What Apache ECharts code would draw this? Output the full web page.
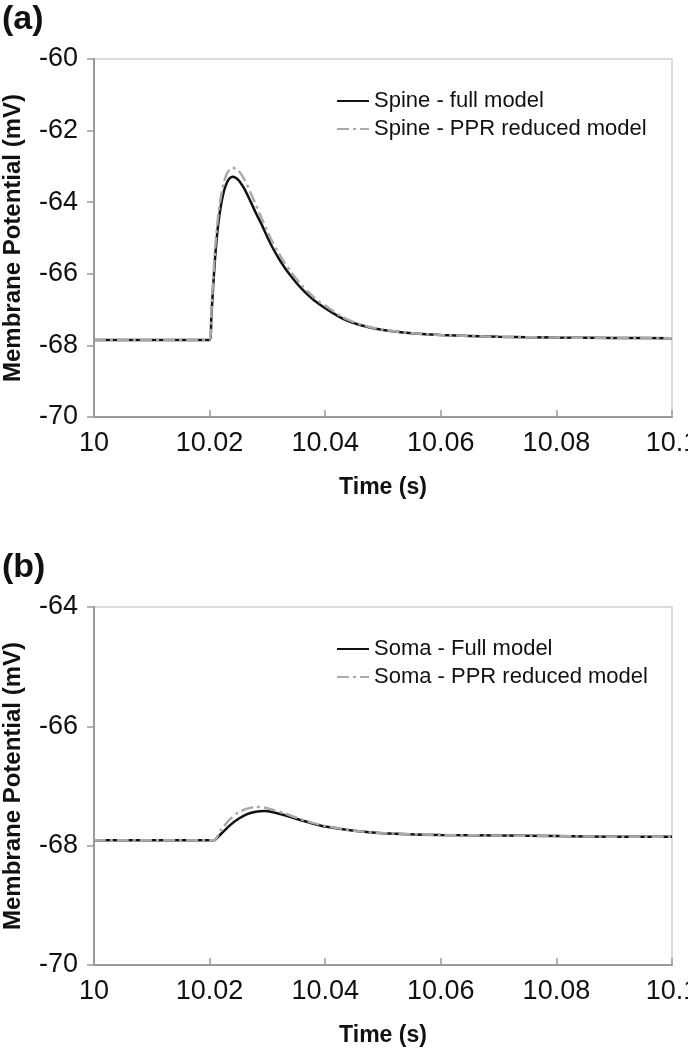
<!DOCTYPE html>
<html>
<head>
<meta charset="utf-8">
<script src="https://cdn.jsdelivr.net/npm/echarts@6/dist/echarts.min.js"></script>
<style>
  html, body {margin: 0; padding: 0; background: #fff;}
  #main {width: 688px; height: 1050px;}
</style>
</head>
<body>
<div id="main"></div>
<script>
// panel (a) - spine
const spineTime = [10, 10.02, 10.0203, 10.0206, 10.021, 10.0215, 10.022, 10.0225, 10.023, 10.0235, 10.024,
  10.025, 10.026, 10.027, 10.028, 10.029, 10.03, 10.031, 10.032, 10.033, 10.034, 10.035, 10.036, 10.037,
  10.038, 10.039, 10.04, 10.043, 10.046, 10.05, 10.055, 10.06, 10.07, 10.08, 10.09, 10.1];
const spineFull = [-67.85, -67.85, -67.2, -66.4, -65.45, -64.6, -64.05, -63.68, -63.45, -63.33, -63.29,
  -63.38, -63.62, -63.95, -64.3, -64.62, -64.98, -65.3, -65.58, -65.83, -66.05, -66.25, -66.43, -66.59,
  -66.73, -66.85, -66.96, -67.25, -67.43, -67.57, -67.66, -67.71, -67.76, -67.78, -67.79, -67.8];
const spineReduced = [-67.85, -67.85, -67.1, -66.2, -65.2, -64.35, -63.8, -63.42, -63.2, -63.08, -63.04,
  -63.12, -63.36, -63.7, -64.07, -64.45, -64.82, -65.15, -65.44, -65.7, -65.93, -66.14, -66.33, -66.5,
  -66.65, -66.78, -66.89, -67.21, -67.41, -67.56, -67.66, -67.71, -67.76, -67.78, -67.79, -67.8];

// panel (b) - soma
const somaTime = [10, 10.0207, 10.022, 10.0235, 10.025, 10.0265, 10.028, 10.0295, 10.031, 10.033, 10.035,
  10.0375, 10.04, 10.045, 10.05, 10.06, 10.07, 10.08, 10.09, 10.1];
const somaFull = [-67.91, -67.91, -67.8, -67.66, -67.55, -67.47, -67.43, -67.42, -67.44, -67.49, -67.55,
  -67.62, -67.68, -67.75, -67.79, -67.82, -67.83, -67.84, -67.85, -67.85];
const somaReduced = [-67.91, -67.91, -67.73, -67.56, -67.44, -67.38, -67.35, -67.36, -67.4, -67.46, -67.53,
  -67.61, -67.67, -67.75, -67.79, -67.82, -67.83, -67.84, -67.85, -67.85];

const xTicks = [10, 10.02, 10.04, 10.06, 10.08, 10.1];

const pairs = (t, v) => t.map((x, i) => [x, v[i]]);
const font = 'Liberation Sans, Arial, sans-serif';

function xAxisFor(idx) {
  return {
    type: 'value', gridIndex: idx, min: xTicks[0], max: xTicks[xTicks.length - 1], interval: 0.02,
    name: 'Time (s)', nameLocation: 'middle', nameGap: 59,
    nameTextStyle: {fontFamily: font, fontWeight: 'bold', fontSize: 23, color: '#111'},
    axisLine: {lineStyle: {color: '#9a9a9a', width: 2}},
    axisTick: {inside: true, length: 7, lineStyle: {color: '#9a9a9a', width: 1.5}},
    axisLabel: {
      fontFamily: font, fontSize: 27, color: '#111', margin: 13,
      formatter: v => String(Math.round(v * 100) / 100)
    },
    splitLine: {show: false}
  };
}

function yAxisFor(idx, min, max) {
  return {
    type: 'value', gridIndex: idx, min: min, max: max, interval: 2,
    name: 'Membrane Potential (mV)', nameLocation: 'middle', nameRotate: 90, nameGap: 69,
    nameTextStyle: {fontFamily: font, fontWeight: 'bold', fontSize: 24, color: '#111'},
    axisLine: {show: true, lineStyle: {color: '#9a9a9a', width: 2}},
    axisTick: {show: true, length: 7, lineStyle: {color: '#9a9a9a', width: 1.5}},
    axisLabel: {fontFamily: font, fontSize: 27, color: '#111', margin: 16},
    splitLine: {show: false}
  };
}

function lineSeries(name, idx, data, reduced) {
  const c = reduced ? '#a9a9a9' : '#111';
  return {
    name: name, type: 'line', xAxisIndex: idx, yAxisIndex: idx,
    data: data, symbol: 'none', smooth: 0.25, z: reduced ? 3 : 2,
    itemStyle: {color: c},
    lineStyle: reduced
      ? {color: c, width: 2.5, type: [12, 4, 3, 4]}
      : {color: c, width: 2.5}
  };
}

function legendFor(names, top) {
  return {
    data: names, orient: 'vertical', left: 336, top: top, padding: 0,
    itemGap: 6, itemWidth: 32, itemHeight: 12,
    itemStyle: {opacity: 0},
    textStyle: {fontFamily: font, fontSize: 22, color: '#111'}
  };
}

const chart = echarts.init(document.getElementById('main'));
chart.setOption({
  animation: false,
  title: [
    {text: '(a)', left: 2, top: 3, padding: 0, textStyle: {fontFamily: font, fontWeight: 'bold', fontSize: 34, color: '#111'}},
    {text: '(b)', left: 2, top: 551, padding: 0, textStyle: {fontFamily: font, fontWeight: 'bold', fontSize: 34, color: '#111'}}
  ],
  grid: [
    {left: 94, right: 16, top: 59, height: 358, outerBoundsMode: 'none',
      show: true, borderColor: '#cfcfcf', borderWidth: 1.5},
    {left: 94, right: 16, top: 607, height: 358, outerBoundsMode: 'none',
      show: true, borderColor: '#cfcfcf', borderWidth: 1.5}
  ],
  legend: [
    legendFor(['Spine - full model', 'Spine - PPR reduced model'], 90),
    legendFor(['Soma - Full model', 'Soma - PPR reduced model'], 638)
  ],
  xAxis: [xAxisFor(0), xAxisFor(1)],
  yAxis: [yAxisFor(0, -70, -60), yAxisFor(1, -70, -64)],
  series: [
    lineSeries('Spine - full model', 0, pairs(spineTime, spineFull), false),
    lineSeries('Spine - PPR reduced model', 0, pairs(spineTime, spineReduced), true),
    lineSeries('Soma - Full model', 1, pairs(somaTime, somaFull), false),
    lineSeries('Soma - PPR reduced model', 1, pairs(somaTime, somaReduced), true)
  ]
});
</script>
</body>
</html>
